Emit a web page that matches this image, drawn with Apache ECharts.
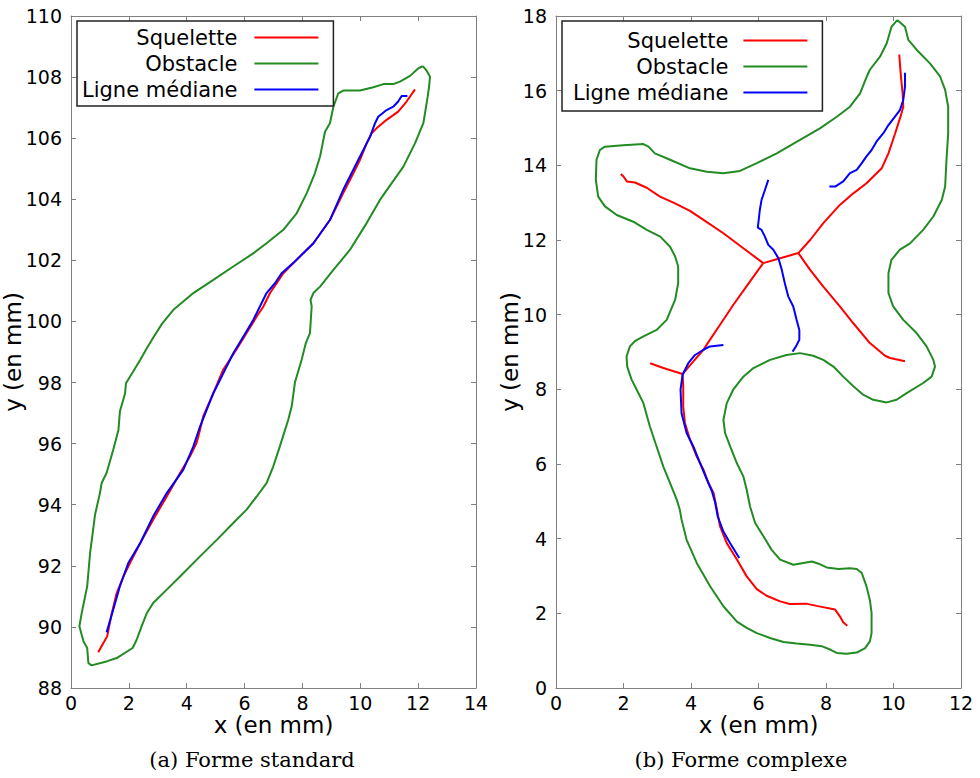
<!DOCTYPE html>
<html><head><meta charset="utf-8">
<script src="https://cdn.jsdelivr.net/npm/echarts@6/dist/echarts.min.js"></script>
<style>html,body{margin:0;padding:0;background:#fff}#c{width:980px;height:778px}</style>
</head><body><div id="c"></div>
<script>
// ---- legend / series names ----
const seriesNames = ['Squelette', 'Obstacle', 'Ligne médiane'];
const captions = ['(a) Forme standard', '(b) Forme complexe'];
const axisNameX = 'x (en mm)';
const axisNameY = 'y (en mm)';
// axis ranges [min, max, interval]
const xRangeA = [0, 14, 2];
const yRangeA = [88, 110, 2];
const xRangeB = [0, 12, 2];
const yRangeB = [0, 18, 2];

// ---- (a) Forme standard ----
const obstacleA = [[12.16,108.36],[12.30,108.20],[12.41,108.01],[12.38,107.70],[12.33,107.36],[12.18,106.49],[11.89,105.83],[11.49,105.07],[11.08,104.52],[10.68,103.98],[10.22,103.22],[9.64,102.34],[9.07,101.69],[8.61,101.14],[8.38,100.93],[8.28,100.71],[8.32,100.49],[8.26,99.62],[8.12,99.30],[7.97,98.74],[7.74,98.0],[7.63,97.22],[7.51,96.78],[7.22,95.91],[6.99,95.25],[6.76,94.71],[6.42,94.27],[6.07,93.84],[5.61,93.40],[5.04,92.85],[4.46,92.31],[3.77,91.65],[3.31,91.22],[2.84,90.78],[2.62,90.45],[2.44,90.02],[2.27,89.58],[2.13,89.31],[1.58,88.98],[1.23,88.87],[0.71,88.74],[0.60,88.82],[0.56,89.31],[0.43,89.53],[0.29,90.02],[0.37,90.45],[0.56,91.33],[0.66,92.42],[0.75,93.07],[0.83,93.67],[1.0,94.38],[1.06,94.71],[1.23,95.04],[1.46,95.80],[1.64,96.45],[1.69,97.05],[1.87,97.65],[1.90,97.98],[2.15,98.36],[2.39,98.74],[2.62,99.12],[2.86,99.50],[3.15,99.93],[3.54,100.38],[4.23,100.93],[4.92,101.36],[5.61,101.80],[6.30,102.23],[6.76,102.56],[7.34,103.0],[7.80,103.54],[8.15,104.20],[8.43,104.85],[8.61,105.40],[8.70,105.83],[8.78,106.21],[8.95,106.49],[9.07,107.03],[9.24,107.47],[9.41,107.56],[9.99,107.56],[10.45,107.67],[10.80,107.77],[11.14,107.77],[11.37,107.85],[11.72,108.04],[12.01,108.29],[12.16,108.36]];
const skeletonA = [[11.89,107.60],[11.60,107.20],[11.31,106.87],[10.91,106.60],[10.57,106.33],[10.39,106.16],[10.22,105.83],[9.99,105.29],[9.76,104.85],[9.41,104.20],[8.95,103.32],[8.38,102.56],[7.80,102.02],[7.34,101.58],[7.11,101.25],[6.88,100.93],[6.65,100.49],[6.42,100.16],[6.07,99.62],[5.73,99.10],[5.26,98.42],[4.92,97.65],[4.57,96.89],[4.46,96.45],[4.34,96.02],[4.11,95.58],[3.77,95.04],[3.31,94.27],[2.84,93.51],[2.39,92.74],[2.04,92.09],[1.81,91.65],[1.58,91.11],[1.41,90.45],[1.25,89.69],[1.12,89.47],[0.94,89.17]];
const medianA = [[11.63,107.38],[11.43,107.38],[11.31,107.20],[11.14,107.03],[10.91,106.92],[10.62,106.70],[10.51,106.49],[10.34,106.05],[9.99,105.40],[9.41,104.31],[8.95,103.32],[8.38,102.56],[7.68,101.91],[7.28,101.58],[7.05,101.25],[6.76,100.93],[6.53,100.49],[6.30,100.05],[5.96,99.51],[5.61,98.96],[5.38,98.52],[4.92,97.65],[4.46,96.56],[4.23,95.91],[3.88,95.14],[3.31,94.38],[2.84,93.62],[2.39,92.74],[1.98,92.09],[1.69,91.33],[1.46,90.56],[1.23,89.82]];

// ---- (b) Forme complexe ----
const obstacleB = [[10.11,17.89],[10.34,17.71],[10.44,17.36],[10.69,17.09],[11.08,16.73],[11.38,16.38],[11.53,16.02],[11.62,15.57],[11.62,14.86],[11.57,14.15],[11.53,13.43],[11.43,13.07],[11.18,12.63],[10.88,12.27],[10.49,11.91],[10.19,11.74],[9.94,11.47],[9.85,11.11],[9.85,10.58],[9.99,10.22],[10.29,9.86],[10.69,9.50],[10.98,9.15],[11.18,8.79],[11.23,8.61],[11.13,8.34],[10.88,8.17],[10.39,7.90],[10.09,7.72],[9.80,7.65],[9.40,7.72],[9.11,7.85],[8.81,8.08],[8.51,8.34],[8.22,8.61],[7.92,8.79],[7.62,8.90],[7.23,8.97],[6.83,8.92],[6.34,8.79],[5.85,8.57],[5.55,8.34],[5.25,7.99],[5.06,7.63],[4.96,7.18],[5.01,6.83],[5.16,6.47],[5.36,6.02],[5.55,5.67],[5.65,5.31],[5.75,4.86],[5.90,4.42],[6.15,4.06],[6.39,3.70],[6.64,3.44],[7.03,3.30],[7.33,3.35],[7.58,3.39],[7.78,3.33],[8.02,3.23],[8.37,3.19],[8.71,3.21],[8.91,3.19],[9.06,3.08],[9.20,2.72],[9.30,2.36],[9.35,2.01],[9.35,1.47],[9.30,1.25],[9.16,1.07],[8.91,0.95],[8.61,0.92],[8.32,0.94],[8.12,1.03],[7.87,1.12],[7.53,1.16],[7.13,1.19],[6.74,1.23],[6.34,1.34],[5.95,1.47],[5.65,1.61],[5.36,1.78],[4.96,2.19],[4.57,2.72],[4.17,3.35],[3.87,3.97],[3.72,4.51],[3.67,4.77],[3.58,5.04],[3.38,5.49],[3.18,5.93],[2.98,6.47],[2.78,7.01],[2.59,7.63],[2.44,7.90],[2.24,8.26],[2.11,8.61],[2.09,8.88],[2.19,9.15],[2.35,9.30],[2.59,9.42],[2.98,9.59],[3.28,9.86],[3.53,10.40],[3.62,10.84],[3.62,11.29],[3.53,11.56],[3.38,11.82],[3.09,12.09],[2.69,12.27],[2.29,12.49],[1.80,12.67],[1.45,12.90],[1.25,13.16],[1.18,13.61],[1.20,14.15],[1.30,14.41],[1.45,14.50],[1.99,14.54],[2.59,14.57],[2.74,14.50],[2.93,14.32],[3.38,14.15],[3.97,13.92],[4.47,13.83],[4.96,13.79],[5.45,13.85],[5.95,14.06],[6.54,14.32],[7.23,14.68],[7.82,14.99],[8.32,15.30],[8.71,15.57],[9.01,15.93],[9.21,16.38],[9.30,16.56],[9.60,16.91],[9.80,17.27],[9.94,17.71],[10.11,17.89]];
const skeletonB1 = [[1.92,13.77],[2.00,13.70],[2.10,13.57],[2.34,13.54],[2.69,13.40],[3.08,13.16],[3.48,13.00],[3.97,12.78],[4.37,12.54],[4.96,12.18],[5.55,11.78],[6.14,11.38]];
const skeletonB2 = [[6.14,11.38],[6.59,11.50],[7.18,11.65],[7.53,12.0],[7.92,12.45],[8.41,12.94],[8.81,13.25],[9.20,13.52],[9.65,13.92],[9.85,14.32],[10.05,14.86],[10.21,15.31],[10.29,15.57],[10.27,15.93],[10.22,16.38],[10.17,16.97]];
const skeletonB3 = [[7.18,11.65],[7.53,11.20],[7.92,10.75],[8.41,10.22],[8.81,9.77],[9.30,9.24],[9.75,8.90],[9.90,8.84],[10.34,8.75]];
const skeletonB4 = [[6.14,11.38],[5.75,10.89],[5.25,10.26],[4.86,9.73],[4.46,9.19],[4.37,9.06],[4.07,8.75],[3.75,8.41],[3.77,8.08],[3.77,7.54],[3.82,7.10],[3.97,6.65],[4.17,6.20],[4.37,5.85],[4.52,5.49],[4.67,5.22],[4.77,4.77],[4.86,4.33],[5.06,3.88],[5.36,3.44],[5.65,2.99],[5.95,2.65],[6.24,2.47],[6.64,2.32],[6.93,2.25],[7.41,2.26],[7.72,2.20],[8.27,2.10],[8.41,1.92],[8.51,1.76],[8.63,1.67]];
const skeletonB5 = [[2.79,8.70],[3.18,8.57],[3.75,8.41]];
const medianB1 = [[8.10,13.43],[8.27,13.43],[8.51,13.57],[8.71,13.79],[8.91,13.88],[9.06,14.06],[9.20,14.24],[9.35,14.41],[9.50,14.64],[9.70,14.86],[9.85,15.08],[10.05,15.31],[10.19,15.48],[10.29,15.75],[10.34,16.11],[10.34,16.48]];
const medianB2 = [[6.29,13.61],[6.19,13.34],[6.09,13.07],[6.04,12.81],[5.98,12.33],[6.09,12.27],[6.19,12.09],[6.29,11.87],[6.44,11.74],[6.59,11.51],[6.69,11.20],[6.78,10.84],[6.88,10.49],[7.03,10.22],[7.13,9.86],[7.21,9.59],[7.21,9.33],[7.11,9.15],[7.01,9.01]];
const medianB3 = [[4.96,9.19],[4.56,9.15],[4.37,9.06],[4.12,8.92],[3.92,8.70],[3.75,8.39],[3.69,7.99],[3.72,7.36],[3.87,6.83],[4.07,6.47],[4.27,6.02],[4.47,5.58],[4.62,5.27],[4.72,4.95],[4.79,4.60],[4.96,4.19],[5.16,3.88],[5.43,3.48]];

const colors = {'Squelette': '#ff0000', 'Obstacle': '#228b22', 'Ligne médiane': '#0000ff'};
const SANS = 'DejaVu Sans';
const AXIS_COLOR = '#808080';

function line(name, data, gi) {
  return {
    type: 'line', name: name, data: data, xAxisIndex: gi * 2, yAxisIndex: gi * 2,
    showSymbol: false, symbol: 'none', smooth: false, animation: false,
    lineStyle: {color: colors[name], width: 2},
    itemStyle: {color: colors[name]}
  };
}
function mainX(gi, r) {
  return {type: 'value', gridIndex: gi, position: 'bottom', min: r[0], max: r[1], interval: r[2],
    name: axisNameX, nameLocation: 'middle', nameGap: 25, nameMoveOverlap: false,
    nameTextStyle: {fontFamily: SANS, fontSize: 23, color: '#000'},
    axisLine: {show: true, onZero: false, lineStyle: {color: AXIS_COLOR, width: 1}},
    axisTick: {show: true, inside: true, length: 5, lineStyle: {color: AXIS_COLOR}},
    axisLabel: {fontFamily: SANS, fontSize: 19, color: '#000', margin: 5, showMinLabel: true, showMaxLabel: true},
    splitLine: {show: false}};
}
function mirrorX(gi, r) {
  return {type: 'value', gridIndex: gi, position: 'top', min: r[0], max: r[1], interval: r[2],
    axisLine: {show: true, onZero: false, lineStyle: {color: AXIS_COLOR, width: 1}},
    axisTick: {show: true, inside: true, length: 5, lineStyle: {color: AXIS_COLOR}},
    axisLabel: {show: false}, splitLine: {show: false}};
}
function mainY(gi, r, gap) {
  return {type: 'value', gridIndex: gi, position: 'left', min: r[0], max: r[1], interval: r[2],
    name: axisNameY, nameLocation: 'middle', nameGap: gap, nameRotate: 90, nameMoveOverlap: false,
    nameTextStyle: {fontFamily: SANS, fontSize: 23, color: '#000'},
    axisLine: {show: true, onZero: false, lineStyle: {color: AXIS_COLOR, width: 1}},
    axisTick: {show: true, inside: true, length: 5, lineStyle: {color: AXIS_COLOR}},
    axisLabel: {fontFamily: SANS, fontSize: 19, color: '#000', margin: 9, showMinLabel: true, showMaxLabel: true},
    splitLine: {show: false}};
}
function mirrorY(gi, r) {
  return {type: 'value', gridIndex: gi, position: 'right', min: r[0], max: r[1], interval: r[2],
    axisLine: {show: true, onZero: false, lineStyle: {color: AXIS_COLOR, width: 1}},
    axisTick: {show: true, inside: true, length: 5, lineStyle: {color: AXIS_COLOR}},
    axisLabel: {show: false}, splitLine: {show: false}};
}
function legend(left, top, padding, textW, spacer) {
  return {data: seriesNames, orient: 'vertical', left: left, top: top, padding: padding,
    itemWidth: 64, itemHeight: 20, itemGap: 5, align: 'right',
    borderColor: '#222', borderWidth: 1.5, backgroundColor: '#fff', selectedMode: false,
    itemStyle: {opacity: 0},
    lineStyle: {width: 2},
    formatter: function (n) { return '{t|' + n + '}{s| }'; },
    textStyle: {fontFamily: SANS, fontSize: 21, color: '#000',
      rich: {t: {width: textW, align: 'right', fontFamily: SANS, fontSize: 21, color: '#000'},
             s: {width: spacer, fontSize: 21}}}};
}

const chart = echarts.init(document.getElementById('c'), null, {renderer: 'svg'});
chart.setOption({
  animation: false,
  backgroundColor: '#fff',
  grid: [
    {left: 71, top: 16, width: 405, height: 672},
    {left: 556, top: 16, width: 405, height: 672}
  ],
  xAxis: [mainX(0, xRangeA), mirrorX(0, xRangeA), mainX(1, xRangeB), mirrorX(1, xRangeB)],
  yAxis: [mainY(0, yRangeA, 47), mirrorY(0, yRangeA), mainY(1, yRangeB, 35), mirrorY(1, yRangeB)],
  legend: [
    legend(77, 21, [6, 14, 6, 5], 159, 12),
    legend(562, 21, [9, 14, 8, 11], 161, 10)
  ],
  series: [
    line('Squelette', skeletonA, 0),
    line('Obstacle', obstacleA, 0),
    line('Ligne médiane', medianA, 0),
    line('Squelette', skeletonB1, 1),
    line('Squelette', skeletonB2, 1),
    line('Squelette', skeletonB3, 1),
    line('Squelette', skeletonB4, 1),
    line('Squelette', skeletonB5, 1),
    line('Obstacle', obstacleB, 1),
    line('Ligne médiane', medianB1, 1),
    line('Ligne médiane', medianB2, 1),
    line('Ligne médiane', medianB3, 1)
  ],
  graphic: [
    {type: 'text', x: 252, y: 760, style: {text: captions[0], font: '21px "DejaVu Serif"', fill: '#000', align: 'center', verticalAlign: 'middle'}},
    {type: 'text', x: 741, y: 760, style: {text: captions[1], font: '21px "DejaVu Serif"', fill: '#000', align: 'center', verticalAlign: 'middle'}}
  ]
});
</script></body></html>
